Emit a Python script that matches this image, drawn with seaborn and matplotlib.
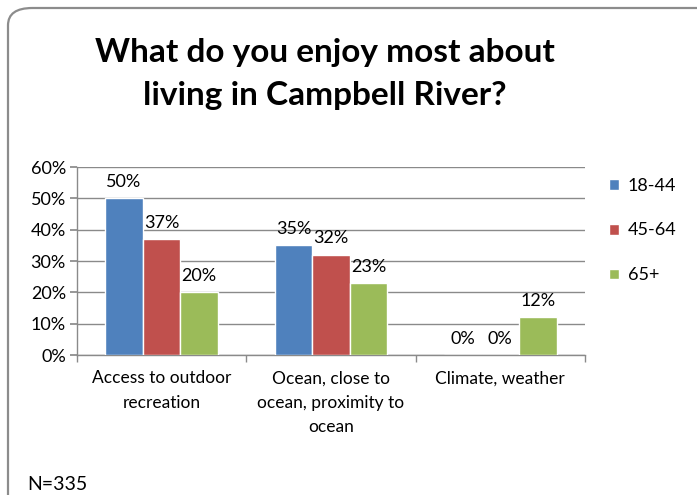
import matplotlib
matplotlib.use("Agg")
import matplotlib.pyplot as plt
from matplotlib.patches import FancyBboxPatch
import seaborn as sns
import pandas as pd

categories = ["Access to outdoor\nrecreation",
              "Ocean, close to\nocean, proximity to\nocean",
              "Climate, weather"]
age_groups = ["18-44", "45-64", "65+"]
share_18_44 = [50, 35, 0]
share_45_64 = [37, 32, 0]
share_65_plus = [20, 23, 12]
y_ticks = [0, 10, 20, 30, 40, 50, 60]
title = "What do you enjoy most about\nliving in Campbell River?"
note = "N=335"

colors = ["#4F81BD", "#C0504D", "#9BBB59"]

rows = []
for group, vals in zip(age_groups, [share_18_44, share_45_64, share_65_plus]):
    for cat, v in zip(categories, vals):
        rows.append({"category": cat, "age": group, "value": v})
df = pd.DataFrame(rows)

sns.set_theme(style="white")
plt.rcParams["font.family"] = ["Lato", "DejaVu Sans"]

fig = plt.figure(figsize=(6.97, 4.95), dpi=100)
W, H = 697, 495

# rounded chart frame
frame = FancyBboxPatch((8 / W, -30 / H), (W + 30 - 8) / W, (H + 30 - 8) / H,
                       boxstyle="round,pad=0,rounding_size=0.035",
                       transform=fig.transFigure, facecolor="none",
                       edgecolor="#8c8c8c", linewidth=1.6, zorder=-10)
fig.patches.append(frame)

ax = fig.add_axes([77 / W, (H - 355) / H, (585 - 77) / W, (355 - 167) / H])
ax.set_facecolor("none")

sns.barplot(data=df, x="category", y="value", hue="age", order=categories,
            hue_order=age_groups, palette=colors, width=0.666, gap=0,
            saturation=1, ax=ax, legend=True, zorder=3)

ax.set_ylim(0, 60)
ax.set_xlim(-0.5, 2.5)
ax.set_yticks(y_ticks)
ax.set_yticklabels([f"{t}%" for t in y_ticks], fontsize=13, color="black")
ax.set_xlabel("")
ax.set_ylabel("")
ax.grid(axis="y", color="#8a8a8a", linewidth=1, zorder=0)
ax.set_axisbelow(True)

for side in ["top", "right"]:
    ax.spines[side].set_visible(False)
for side in ["left", "bottom"]:
    ax.spines[side].set_color("#8a8a8a")
    ax.spines[side].set_linewidth(1)

ax.tick_params(axis="y", which="major", length=5, color="#8a8a8a",
               direction="out", left=True, pad=3)
ax.set_xticks(range(len(categories)))
ax.set_xticklabels(categories, fontsize=12.5, color="black", linespacing=1.65,
                   va="top")
ax.tick_params(axis="x", which="major", length=0, pad=11)
ax.set_xticks([-0.5, 0.5, 1.5, 2.5], minor=True)
ax.tick_params(axis="x", which="minor", length=5, color="#8a8a8a",
               direction="out", bottom=True)

for container in ax.containers:
    ax.bar_label(container, labels=[f"{v:.0f}%" for v in container.datavalues],
                 padding=6, fontsize=13, color="black")

leg = ax.legend(loc="upper left", bbox_to_anchor=(1.015, 1.03), frameon=False,
                fontsize=13, handlelength=0.55, handleheight=0.55,
                handletextpad=0.5, labelspacing=1.6)
for t in leg.get_texts():
    t.set_color("black")

fig.text(325 / W, 1 - 74 / H, title, ha="center", va="center",
         fontsize=24, fontweight="bold", color="black", linespacing=1.6)
fig.text(27 / W, 1 - 484 / H, note, ha="left", va="center",
         fontsize=14, color="black")

fig.savefig("out.png", dpi=100)
